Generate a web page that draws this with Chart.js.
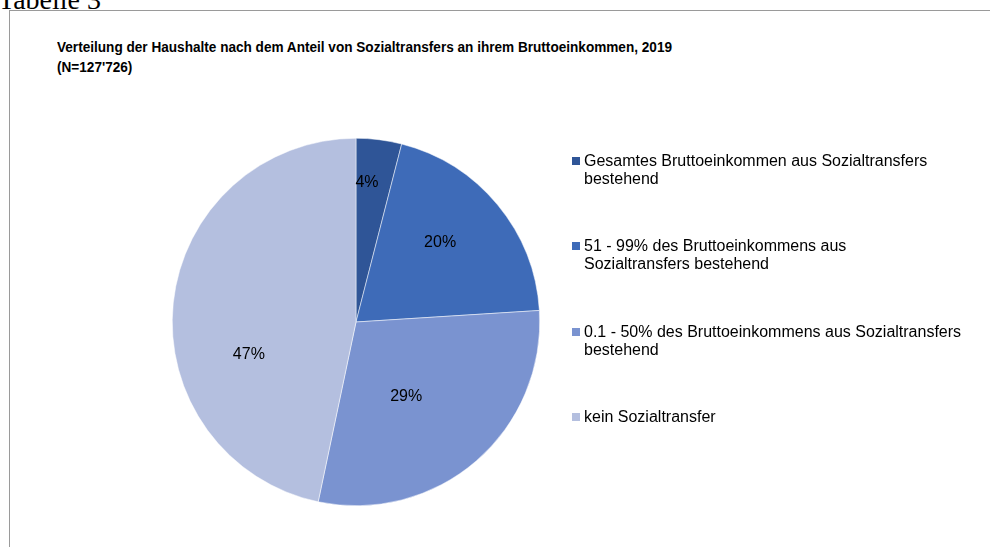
<!DOCTYPE html>
<html lang="de">
<head>
<meta charset="utf-8">
<script src="https://cdn.jsdelivr.net/npm/chart.js@4.4.1/dist/chart.umd.min.js"></script>
<style>
  body { margin: 0; width: 990px; height: 547px; overflow: hidden; background: #fff; position: relative; font-family: "Liberation Sans", Arial, sans-serif; }
  #tabelle { position: absolute; left: -2px; top: -14px; font: 28px/1 "Liberation Serif", "Times New Roman", serif; color: #000; white-space: nowrap; }
  #frame { position: absolute; left: 9px; top: 10px; width: 990px; height: 600px; border-left: 1px solid #9a9a9a; border-top: 1px solid #9a9a9a; }
  #title { position: absolute; left: 57px; top: 37px; font-weight: bold; font-size: 14.5px; line-height: 20px; color: #000; white-space: nowrap; transform-origin: 0 0; }
  #chartBox { position: absolute; left: 0; top: 0; width: 990px; height: 547px; }
  .leg { position: absolute; left: 584px; font-size: 16px; line-height: 18px; color: #000; white-space: nowrap; }
  .leg i { position: absolute; left: -12px; top: 5px; width: 8px; height: 8px; }
</style>
</head>
<body>
<div id="frame"></div>
<div id="tabelle">Tabelle 3</div>
<div id="title"></div>
<div id="chartBox"><canvas id="pie"></canvas></div>
<div id="legend"></div>
<script>
// Daten
const titleLines = ["Verteilung der Haushalte nach dem Anteil von Sozialtransfers an ihrem Bruttoeinkommen, 2019", "(N=127'726)"];
const categories = [
    ["Gesamtes Bruttoeinkommen aus Sozialtransfers", "bestehend"],
    ["51 - 99% des Bruttoeinkommens aus", "Sozialtransfers bestehend"],
    ["0.1 - 50% des Bruttoeinkommens aus Sozialtransfers", "bestehend"],
    ["kein Sozialtransfer"]
];
const shares = [4.0, 20.0, 29.3, 46.7];
const percentLabels = ["4%", "20%", "29%", "47%"];
const colors = ['#2f5597', '#3e6bb8', '#7a93d0', '#b4bfdf'];

// Beschriftungen innerhalb der Segmente (Radius-Anteil, Winkelkorrektur in Grad)
const labelRadius = [0.76, 0.63, 0.49, 0.61];
const labelShift = [-2.7, -3.8, 7, -23];

// Titel, auf die Breite des Originals gestreckt
const titleEl = document.getElementById('title');
titleEl.innerHTML = titleLines.join('<br>');
const titleWidth = titleEl.getBoundingClientRect().width;
titleEl.style.transform = `scaleX(${615 / titleWidth})`;

// Legende
const legendEl = document.getElementById('legend');
categories.forEach((lines, i) => {
    const item = document.createElement('div');
    item.className = 'leg';
    item.style.top = (152 + i * 85.3) + 'px';
    item.innerHTML = `<i style="background:${colors[i]}"></i>` + lines.join('<br>');
    legendEl.appendChild(item);
});

// Plugin für die Prozentwerte
const sliceLabels = {
    id: 'sliceLabels',
    afterDatasetsDraw(chart) {
        const ctx = chart.ctx;
        const arcs = chart.getDatasetMeta(0).data;
        ctx.save();
        ctx.font = '16px "Liberation Sans", Arial, sans-serif';
        ctx.fillStyle = '#000';
        ctx.textAlign = 'center';
        ctx.textBaseline = 'middle';
        arcs.forEach((arc, i) => {
            const p = arc.getProps(['x', 'y', 'startAngle', 'endAngle', 'outerRadius'], true);
            const a = (p.startAngle + p.endAngle) / 2 + labelShift[i] * Math.PI / 180;
            const r = p.outerRadius * labelRadius[i];
            ctx.fillText(percentLabels[i], p.x + Math.cos(a) * r, p.y + Math.sin(a) * r);
        });
        ctx.restore();
    }
};

const pieChart = new Chart(document.getElementById('pie'), {
    type: 'pie',
    data: {
        labels: categories.map(l => l.join(' ')),
        datasets: [{
            data: shares,
            backgroundColor: colors,
            borderColor: '#ffffff',
            borderWidth: 0.5
        }]
    },
    options: {
        responsive: true,
        maintainAspectRatio: false,
        animation: false,
        layout: { padding: { left: 172, right: 450, top: 138, bottom: 41 } },
        plugins: {
            legend: { display: false },
            tooltip: { enabled: false },
            title: { display: false }
        }
    },
    plugins: [sliceLabels]
});
</script>
</body>
</html>
